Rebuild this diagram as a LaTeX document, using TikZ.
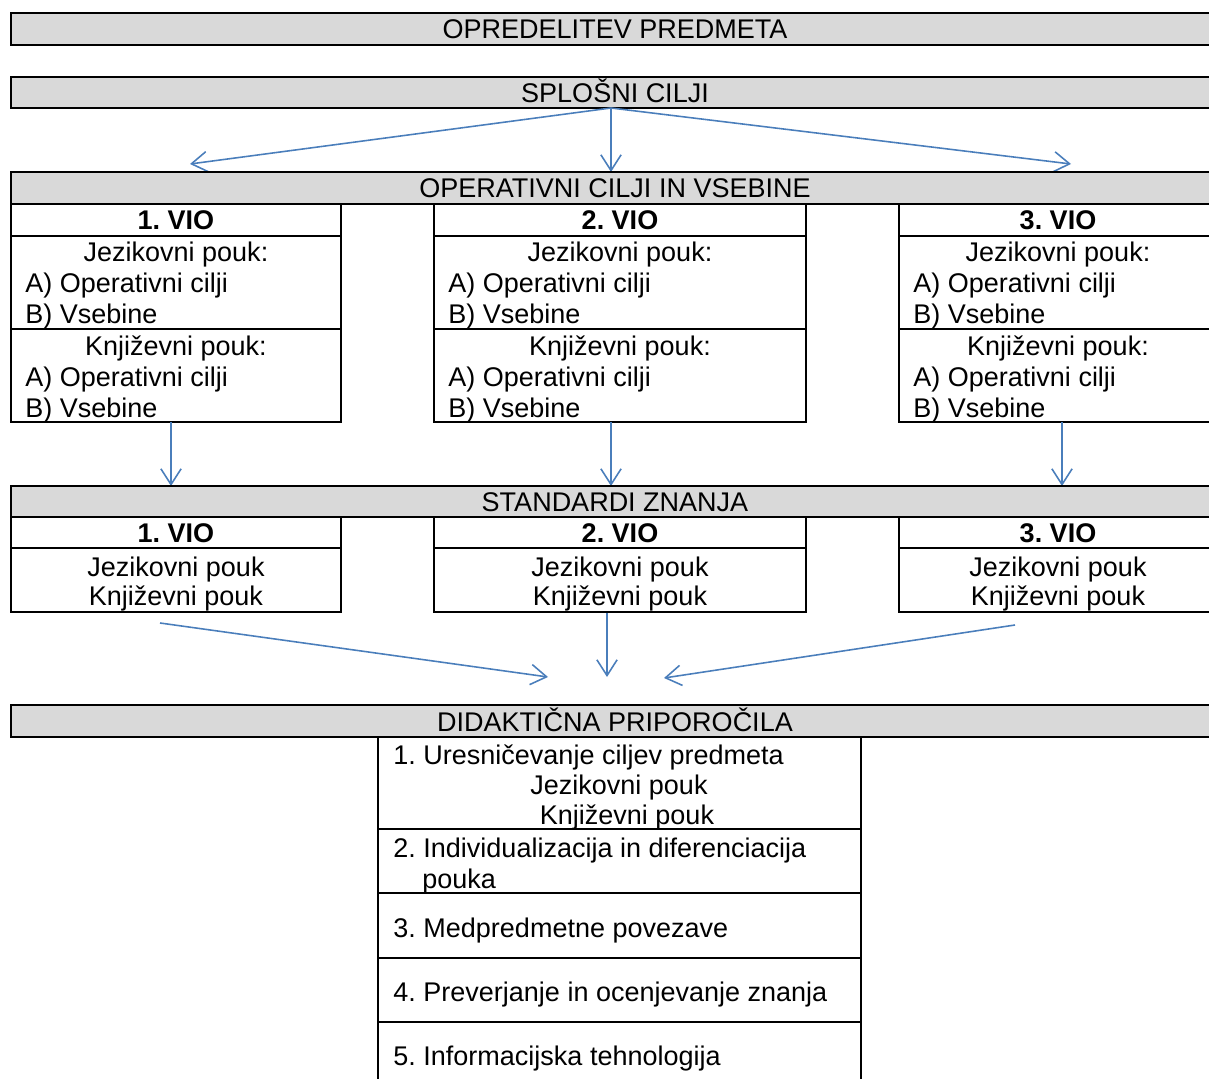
\documentclass[tikz,border=0pt]{standalone}
\usepackage{fontspec}
\setmainfont{Liberation Sans}
\usetikzlibrary{arrows.meta}
\definecolor{barfill}{RGB}{217,217,217}
\definecolor{arrowblue}{RGB}{74,126,187}
\tikzset{
  txt/.style={anchor=base, inner sep=0pt, font=\fontsize{12}{13.8}\selectfont},
  lft/.style={txt, anchor=base west},
  head/.style={txt, font=\fontsize{12}{13.8}\selectfont\bfseries},
  bar/.style={draw, line width=0.8pt, fill=barfill},
  cell/.style={draw, line width=0.7pt},
  link/.style={arrowblue, line width=0.7pt, -{Straight Barb[length=7pt,width=9pt]}}
}
\frenchspacing
\begin{document}
\begin{tikzpicture}[x=0.4444pt, y=-0.4444pt]
    \clip (0,0) rectangle (1209,1079);

    % Top bars
    \draw[bar] (11,13) rectangle (1219,45);
    \node[txt] (opredelitev) at (615,39) {OPREDELITEV PREDMETA};
    \draw[bar] (11,77) rectangle (1219,108);
    \node[txt] (splosni) at (615,103) {SPLOŠNI CILJI};

    % Arrows to operativni cilji
    \coordinate (s0) at (611,108);
    \coordinate (s1) at (190,164); \coordinate (s2) at (611,172); \coordinate (s3) at (1071,164);
    \foreach \p in {s1,s2,s3} \draw[link] (s0) -- (\p);

    % Operativni cilji in vsebine
    \draw[bar] (11,172) rectangle (1219,204);
    \node[txt] (operativni) at (615,198) {OPERATIVNI CILJI IN VSEBINE};
    \foreach \n/\l/\r in {1/11/341, 2/434/806, 3/899/1217} {
        \pgfmathsetmacro\c{(\l+\r)/2}
        \pgfmathsetmacro\a{\l+14}
        \draw[cell] (\l,204) rectangle (\r,236) (\l,236) rectangle (\r,329) (\l,329) rectangle (\r,422);
        \node[head] (ovio\n) at (\c,230) {\n. VIO};
        \node[txt] (ojez\n) at (\c,262) {Jezikovni pouk:};
        \node[lft] (ojeza\n) at (\a,293) {A) Operativni cilji};
        \node[lft] (ojezb\n) at (\a,324) {B) Vsebine};
        \node[txt] (oknj\n) at (\c,356) {Književni pouk:};
        \node[lft] (oknja\n) at (\a,387) {A) Operativni cilji};
        \node[lft] (oknjb\n) at (\a,418) {B) Vsebine};
    }

    % Arrows to standardi
    \coordinate (o1) at (171,422); \coordinate (t1) at (171,486);
    \coordinate (o2) at (611,422); \coordinate (t2) at (611,486);
    \coordinate (o3) at (1062,422); \coordinate (t3) at (1062,486);
    \foreach \i in {1,2,3} \draw[link] (o\i) -- (t\i);

    % Standardi znanja
    \draw[bar] (11,486) rectangle (1219,517);
    \node[txt] (standardi) at (615,512) {STANDARDI ZNANJA};
    \foreach \n/\l/\r in {1/11/341, 2/434/806, 3/899/1217} {
        \pgfmathsetmacro\c{(\l+\r)/2}
        \draw[cell] (\l,517) rectangle (\r,548) (\l,548) rectangle (\r,612);
        \node[head] (svio\n) at (\c,543) {\n. VIO};
        \node[txt] (sjez\n) at (\c,576) {Jezikovni pouk};
        \node[txt] (sknj\n) at (\c,606) {Književni pouk};
    }

    % Arrows to didakticna priporocila
    \coordinate (u1) at (160,623); \coordinate (d1) at (548,677);
    \coordinate (u2) at (607,613); \coordinate (d2) at (607,677);
    \coordinate (u3) at (1015,625); \coordinate (d3) at (664,678);
    \foreach \i in {1,2,3} \draw[link] (u\i) -- (d\i);

    % Didakticna priporocila
    \draw[bar] (11,705) rectangle (1219,737);
    \node[txt] (didakticna) at (615,731) {DIDAKTIČNA PRIPOROČILA};
    \draw[cell] (378,737) rectangle (861,829) (378,829) rectangle (861,893)
        (378,893) rectangle (861,958) (378,958) rectangle (861,1022) (378,1022) rectangle (861,1090);
    \node[lft] (p1) at (393,764) {1. Uresničevanje ciljev predmeta};
    \node[txt] (p1a) at (619,794) {Jezikovni pouk};
    \node[txt] (p1b) at (627,824) {Književni pouk};
    \node[lft] (p2) at (393,857) {2. Individualizacija in diferenciacija};
    \node[lft] (p2a) at (422,888) {pouka};
    \node[lft] (p3) at (393,937) {3. Medpredmetne povezave};
    \node[lft] (p4) at (393,1001) {4. Preverjanje in ocenjevanje znanja};
    \node[lft] (p5) at (393,1065) {5. Informacijska tehnologija};
\end{tikzpicture}
\end{document}
